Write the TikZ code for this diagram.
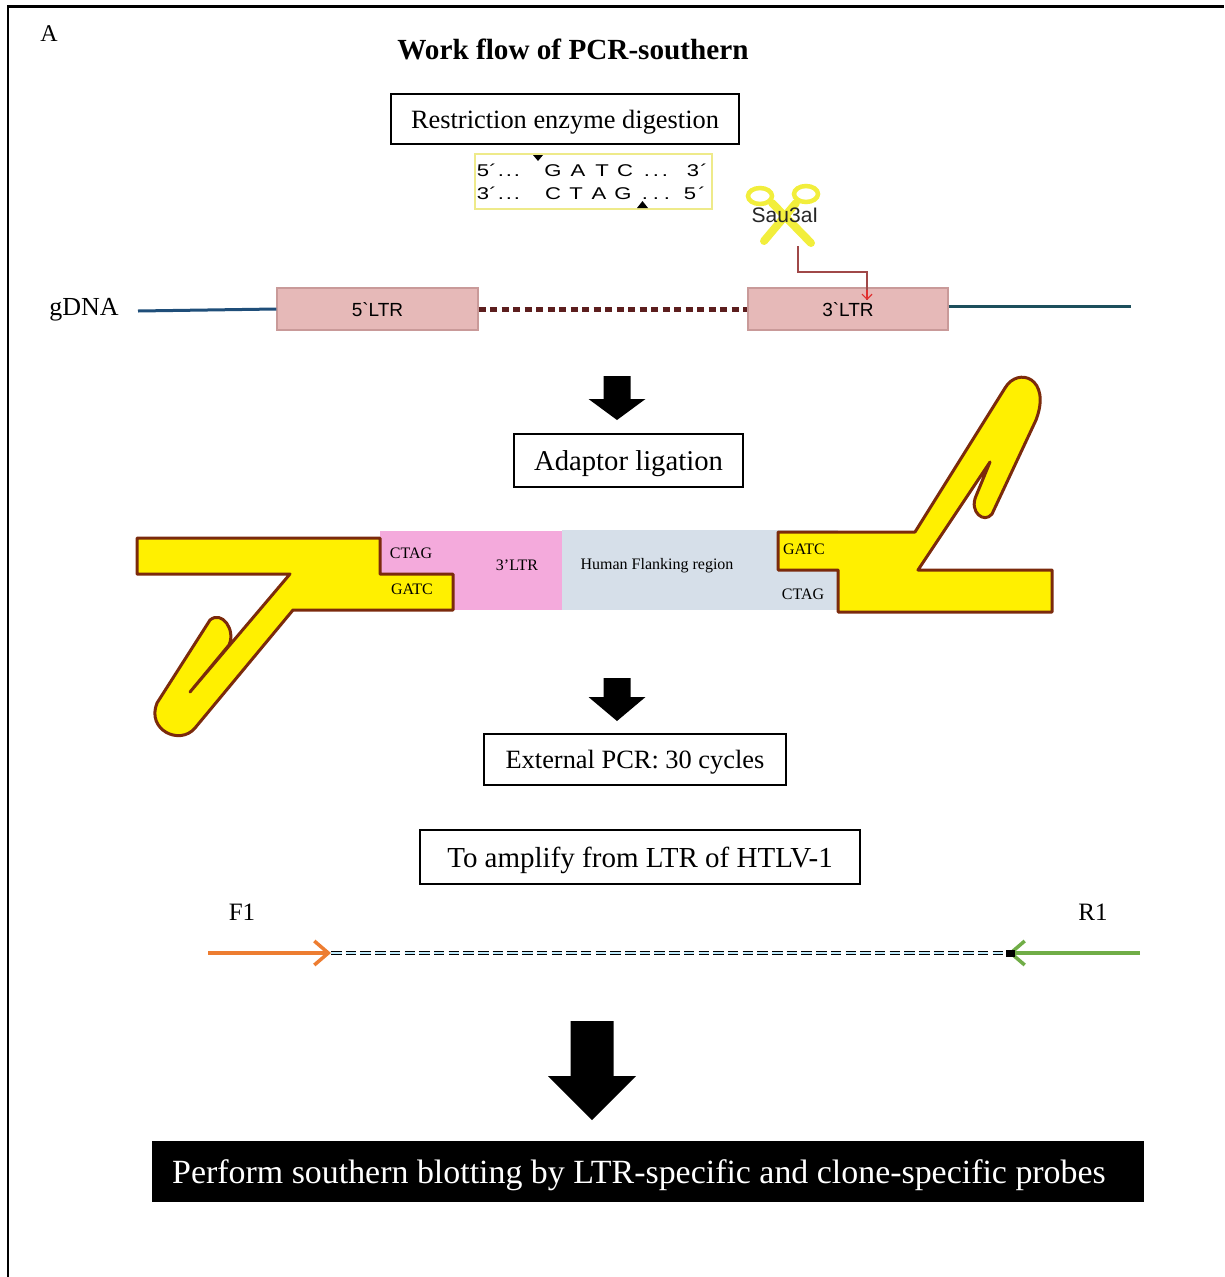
\documentclass[tikz,border=0pt]{standalone}
\usepackage{fontspec}
\usepackage{graphicx}
\setmainfont{Liberation Serif}
\newfontfamily\labelsans{Liberation Sans}
\usetikzlibrary{arrows.meta}

\definecolor{ltrFill}{HTML}{E6B9B8}
\definecolor{ltrEdge}{HTML}{C99A99}
\definecolor{dnaBlue}{HTML}{1F4E79}
\definecolor{dnaTeal}{HTML}{1D4F5C}
\definecolor{dotBrown}{HTML}{5C1E1E}
\definecolor{cutLine}{HTML}{A04848}
\definecolor{cutTip}{HTML}{E03030}
\definecolor{scYellow}{HTML}{F2EE3C}
\definecolor{adYellow}{HTML}{FFF000}
\definecolor{adBrown}{HTML}{7B2A0C}
\definecolor{ltrPink}{HTML}{F4AADC}
\definecolor{flankGrey}{HTML}{D6DFE9}
\definecolor{primerF}{HTML}{ED7D31}
\definecolor{primerR}{HTML}{70AD47}
\definecolor{seqEdge}{HTML}{EEEA8A}

% block arrow: centre x, top y, head y, tip y, shaft half width, head half width
\newcommand\blockarrow[6]{%
  \fill (#1-#5,#2) -- (#1+#5,#2) -- (#1+#5,#3) -- (#1+#6,#3) -- (#1,#4)
        -- (#1-#6,#3) -- (#1-#5,#3) -- cycle;}
\newcommand\fsz[1]{\fontsize{#1}{#1}\selectfont}

\begin{document}
\begin{tikzpicture}[x=1pt,y=-1pt,
  every node/.style={text depth=0pt},
  flowbox/.style={draw=black, line width=2pt, inner sep=0pt},
  ltrbox/.style={draw=ltrEdge, fill=ltrFill, line width=1.2pt, inner sep=0pt,
                 minimum height=42pt, font=\labelsans\fsz{19}},
  adaptor/.style={fill=adYellow, draw=adBrown, line width=3pt, line join=round},
  smalllabel/.style={font=\fsz{16}, inner sep=0pt},
  seqchar/.style={anchor=base, inner sep=0pt, font=\labelsans\fsz{17}},
  primer/.style={line width=3.5pt, -{Straight Barb[length=14pt,width=24pt]}},
]
\useasboundingbox (0,0) rectangle (1224,1277);

% frame
\draw[line width=3pt] (7,6) -- (1224,6);
\draw[line width=2pt] (8,5) -- (8,1277);

\node[font=\fsz{24}, inner sep=0pt] (panel) at (49,34) {A};
\node[font=\bfseries\fsz{29.2}, inner sep=0pt] (title) at (573,49) {Work flow of PCR-southern};

% step 1: digestion
\node[flowbox, minimum width=348pt, minimum height=50pt, font=\fsz{26.4}] (digest) at (565,119) {Restriction enzyme digestion};

\node[draw=seqEdge, line width=1.5pt, minimum width=237pt, minimum height=55pt, inner sep=0pt] (seqbox) at (593.5,181.5) {};
\foreach \c/\x in {5/483, ´/493, ./501, ./509, ./517, G/553, A/578, T/602, C/625, ./647, ./656, ./665, 3/693, ´/704}
  \node[seqchar] at (\x,176) {\scalebox{1.3}[1]{\c}};
\foreach \c/\x in {3/483, ´/493, ./501, ./509, ./517, C/553, T/576, A/599, G/623, ./645, ./656, ./667, 5/690, ´/702}
  \node[seqchar] at (\x,199) {\scalebox{1.3}[1]{\c}};
\fill (533,155) -- (543,155) -- (538,161) -- cycle;
\fill (637,208) -- (648,208) -- (642.5,201) -- cycle;

% scissors
\draw[scYellow, line width=8pt, line cap=round] (772,203) -- (811,243);
\draw[scYellow, line width=8pt, line cap=round] (796,203) -- (764,241);
\draw[scYellow, line width=4.5pt, fill=white] (760,196) ellipse [x radius=12, y radius=8];
\draw[scYellow, line width=4.5pt, fill=white] (806,194) ellipse [x radius=12, y radius=8];
\node[font=\labelsans\fsz{21}, text=black!85, inner sep=0pt] (enzyme) at (785,215) {Sau3aI};
\coordinate (scissors) at (798,246);
\coordinate (cutsite) at (867,300);

% genomic DNA with the two LTRs
\node[font=\fsz{26}, inner sep=0pt] (gdna) at (84,307) {gDNA};
\node[ltrbox, minimum width=201pt] (ltr5) at (377.5,309) {5`LTR};
\node[ltrbox, minimum width=200pt] (ltr3) at (848,309) {3`LTR};
\coordinate (dnaL) at (138,311);
\coordinate (dnaR) at (1131,306);
\draw[dnaBlue, line width=3pt] (dnaL) -- (ltr5.west);
\draw[dnaTeal, line width=3pt] (ltr3.east |- dnaR) -- (dnaR);
\draw[dotBrown, line width=5pt, dash pattern=on 7pt off 4.5pt] (ltr5.east) -- (ltr3.west);
\draw[cutLine, line width=1.2pt] (scissors) -- (798,272) -| (cutsite);
\draw[cutTip, line width=1.2pt, -{Straight Barb[length=5pt,width=10pt]}] (867,290) -- (cutsite);

\blockarrow{617}{376}{399}{420}{13.5}{28.5}

% step 2: adaptor ligation
\node[flowbox, minimum width=229pt, minimum height=53pt, font=\fsz{28.7}] (ligate) at (628.5,460.5) {Adaptor ligation};

\fill[ltrPink] (380,531) rectangle (562,610);
\fill[flankGrey] (562,530) rectangle (838,610);
\draw[adaptor] (137,538) -- (380,538) -- (380,574) -- (453,574) -- (453,610) -- (293,610)
  -- (195,728) .. controls (180,746) and (146,730) .. (157,703) -- (210,620)
  .. controls (222,610) and (236,630) .. (229,645) -- (190,692) -- (290,574) -- (137,574) -- cycle;
\draw[adaptor] (778,532) -- (915,532) -- (1005,388) .. controls (1018,366) and (1052,378) .. (1036,420)
  -- (992,514) .. controls (984,524) and (969,512) .. (976,496) -- (990,462) -- (918,570)
  -- (1052,570) -- (1052,612) -- (838,612) -- (838,570) -- (778,570) -- cycle;
\node[smalllabel] (ctagL) at (411,553) {CTAG};
\node[smalllabel] (gatcL) at (412,589) {GATC};
\node[smalllabel] (ltrseg) at (517,565) {3’LTR};
\node[smalllabel] (flank) at (657,564) {Human Flanking region};
\node[smalllabel] (gatcR) at (804,549) {GATC};
\node[smalllabel] (ctagR) at (803,594) {CTAG};

\blockarrow{617}{678}{697}{721}{13.5}{28.5}

% step 3: PCR
\node[flowbox, minimum width=302pt, minimum height=51pt, font=\fsz{26.4}] (pcr) at (635,759.5) {External PCR: 30 cycles};
\node[flowbox, minimum width=440pt, minimum height=54pt, font=\fsz{29}] (amplify) at (640,857) {To amplify from LTR of HTLV-1};

\node[font=\fsz{25}, inner sep=0pt] (f1) at (242,912) {F1};
\node[font=\fsz{25}, inner sep=0pt] (r1) at (1093,912) {R1};
\coordinate (fstart) at (208,953);
\coordinate (fend) at (331,953);
\coordinate (rstart) at (1140,953);
\coordinate (rend) at (1008,953);
\draw[line width=1.4pt, double=cyan!25, double distance=1.3pt, dash pattern=on 10.5pt off 4.2pt] (fend) -- (rend);
\draw[primerF, primer] (fstart) -- (fend);
\draw[primerR, primer] (rstart) -- (rend);
\fill (1006,949.5) rectangle (1015,956.5);

\blockarrow{592}{1021}{1076}{1120}{21.5}{44}

% step 4: blotting
\node[fill=black, minimum width=992pt, minimum height=61pt, inner sep=0pt] (blot) at (648,1171.5) {};
\node[text=white, inner sep=0pt, font=\fsz{33.9}] (blottext) at (639,1172) {Perform southern blotting by LTR-specific and clone-specific probes};
\end{tikzpicture}
\end{document}
